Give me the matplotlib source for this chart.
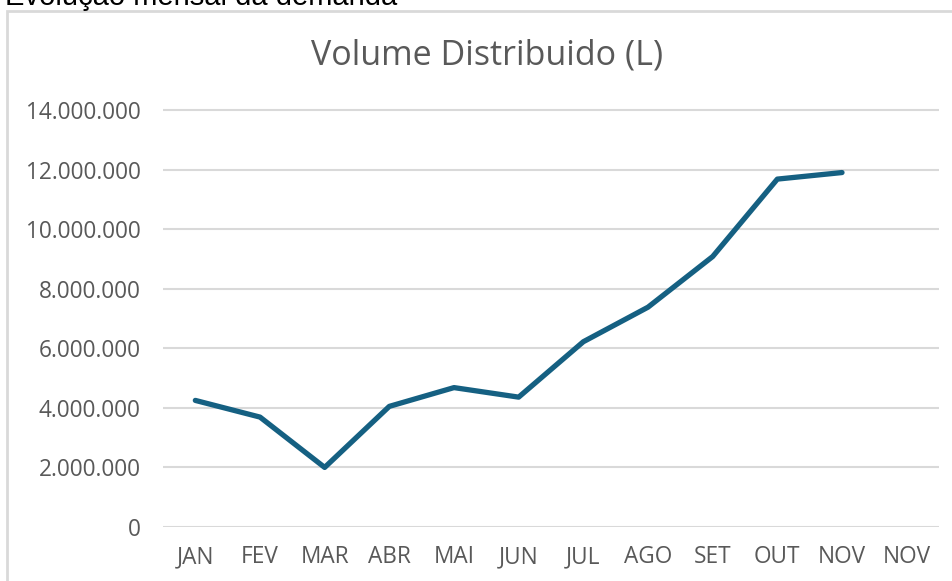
import matplotlib
matplotlib.use("Agg")
import matplotlib.pyplot as plt
from matplotlib.patches import Rectangle
from matplotlib.ticker import FuncFormatter
import numpy as np

categories = ["JAN", "FEV", "MAR", "ABR", "MAI", "JUN", "JUL", "AGO", "SET", "OUT", "NOV", "NOV"]
volume = [4250000, 3690000, 2000000, 4050000, 4680000, 4360000, 6220000, 7380000, 9080000, 11680000, 11900000, None]
yticks = [0, 2000000, 4000000, 6000000, 8000000, 10000000, 12000000, 14000000]

W, H = 953, 581
fig = plt.figure(figsize=(W / 100, H / 100), dpi=100)
fig.patch.set_facecolor("white")

# chart frame
fig.patches.append(Rectangle((7 / W, -0.1), 1.2, (H - 11) / H + 0.1, transform=fig.transFigure,
                             fill=False, edgecolor="#d9d9d9", linewidth=2))
fig.text(5 / W, 1 - 5 / H, "Evolução mensal da demanda", family="Liberation Sans",
         fontsize=21, color="black", va="baseline", ha="left")

ax = fig.add_axes([163 / W, 1 - 527 / H, (939 - 163) / W, (527 - 110) / H * (16 / 14) ])
x = np.arange(len(categories))
vals = np.array([np.nan if v is None else v for v in volume], dtype=float)
ax.plot(x, vals, color="#156082", linewidth=3.8, solid_capstyle="round", solid_joinstyle="round")

ax.set_xlim(-0.5, len(categories) - 0.5)
ax.set_ylim(0, 16000000)
ax.set_yticks(yticks)
ax.yaxis.set_major_formatter(FuncFormatter(lambda v, p: f"{int(v):,}".replace(",", ".")))
ax.set_xticks(x)
ax.set_xticklabels(categories)
for s in ax.spines.values():
    s.set_visible(False)
ax.grid(axis="y", color="#d9d9d9", linewidth=1.5)
ax.set_axisbelow(True)
ax.tick_params(axis="both", length=0, labelsize=16.3, labelcolor="#595959")
ax.tick_params(axis="y", pad=16)
ax.tick_params(axis="x", pad=13)
for t in ax.get_xticklabels() + ax.get_yticklabels():
    t.set_family("Open Sans")
ax.patch.set_alpha(0)

fig.text(487 / W, 1 - 55 / H, "Volume Distribuido (L)", family="Open Sans", fontsize=24.5,
         color="#595959", ha="center", va="center")

fig.savefig("out.png", dpi=100)
